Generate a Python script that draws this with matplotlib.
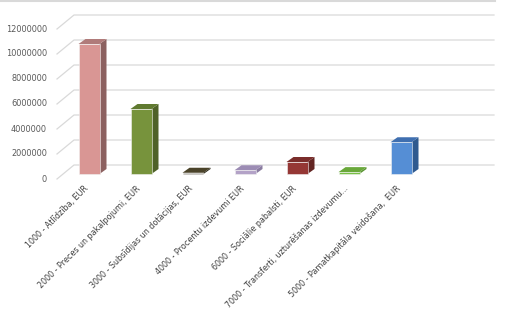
import numpy as np
import matplotlib.pyplot as plt
from matplotlib.patches import Polygon
from matplotlib.lines import Line2D

# dati
kategorijas = [
    "1000 - Atlīdzība, EUR",
    "2000 - Preces un pakalpojumi, EUR",
    "3000 - Subsīdijas un dotācijas, EUR",
    "4000 - Procentu izdevumi EUR",
    "6000 - Sociālie pabalsti, EUR",
    "7000 - Transferti, uzturēšanas izdevumu...",
    "5000 - Pamatkapitāla veidošana,  EUR",
]
vertibas = [10400000, 5200000, 100000, 300000, 960000, 150000, 2540000]
y_ticks = [0, 2000000, 4000000, 6000000, 8000000, 10000000, 12000000]

krasas_priekša = ["#d99694", "#77933c", "#3d3722", "#b3a2c7", "#953735", "#79bf45", "#558ed5"]
krasas_sans = ["#8c6160", "#4f6228", "#2a2616", "#8a7ca0", "#632523", "#5a9433", "#2f5a8f"]
krasas_augsa = ["#b07b7a", "#607a30", "#4a4329", "#9c8cb4", "#7a2d2b", "#69a83a", "#3f6fb0"]

W, H = 509, 313
fig = plt.figure(figsize=(W / 100, H / 100), dpi=100)

# asis: x pikseļi 57..494, y pikseļi 15..179
ax = fig.add_axes([57 / W, (H - 179) / H, 437 / W, 164 / H])
ax.set_xlim((57 - 89) / 52, (494 - 89) / 52)
ax.set_ylim(-5 * 80000, (174 - 15) * 80000)
ax.axis("off")
ax.patch.set_visible(False)

def disp(x, y, dx=0, dy=0):
    # datu punkts -> ekrāna pikseļi ar nobīdi (dy uz augšu)
    p = ax.transData.transform((x, y))
    return (p[0] + dx, p[1] + dy)

grid_col = "#d9d9d9"
x_wall = (74 - 89) / 52
x_left = ax.get_xlim()[0]
x_right = ax.get_xlim()[1]
for v in y_ticks:
    a = disp(x_left, v, 0, -5)
    b = disp(x_wall, v, 0, 9)
    c = disp(x_right, v, 0, 9)
    fig.add_artist(Line2D([a[0], b[0], c[0]], [a[1], b[1], c[1]], color=grid_col,
                          lw=0.9, transform=None, zorder=-2))
    fig.text(47 / W, a[1] / H, f"{v}", ha="right", va="center",
             fontsize=5.9, color="#595959")

# stabiņi ar dziļumu
bw = 21 / 52
ddx, ddy = 7, 5
for i, v in enumerate(vertibas):
    x0, x1 = i - bw / 2, i + bw / 2
    ax.bar(i, v, width=bw, color=krasas_priekša[i], edgecolor="#f2f2f2",
           linewidth=0.4, zorder=3)
    p1 = disp(x1, v)
    p2 = disp(x1, 0)
    p0 = disp(x0, v)
    side = [p1, (p1[0] + ddx, p1[1] + ddy), (p2[0] + ddx, p2[1] + ddy), p2]
    top = [p0, p1, (p1[0] + ddx, p1[1] + ddy), (p0[0] + ddx, p0[1] + ddy)]
    fig.add_artist(Polygon(side, closed=True, facecolor=krasas_sans[i],
                           edgecolor="none", transform=None, zorder=-1))
    fig.add_artist(Polygon(top, closed=True, facecolor=krasas_augsa[i],
                           edgecolor="none", transform=None, zorder=-1))
    lp = disp(i, 0, 0, -15)
    fig.text(lp[0] / W, lp[1] / H, kategorijas[i], rotation=45,
             rotation_mode="anchor", ha="right", va="baseline",
             fontsize=5.8, color="#404040")

fig.add_artist(Line2D([0, 495 / W], [1 - 1 / H, 1 - 1 / H], color="#d9d9d9", lw=1.5))

fig.savefig("out.png", dpi=100)
